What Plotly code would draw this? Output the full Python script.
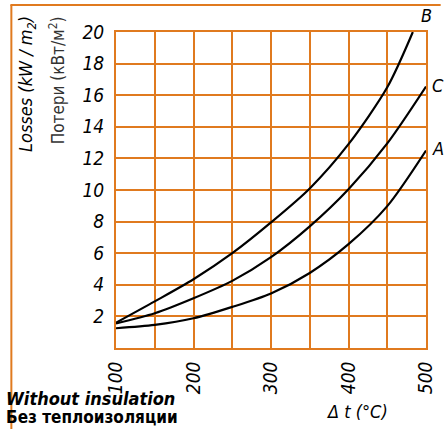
import plotly.graph_objects as go

x_main = [100, 150, 200, 250, 300, 350, 400, 450, 500]
x_b = [100, 150, 200, 250, 300, 350, 400, 450, 483]
loss_b = [1.6, 2.95, 4.35, 6.0, 7.95, 10.1, 12.9, 16.5, 20.0]
loss_c = [1.55, 2.2, 3.15, 4.25, 5.75, 7.7, 10.05, 12.95, 16.55]
loss_a = [1.25, 1.46, 1.88, 2.6, 3.45, 4.75, 6.57, 8.98, 12.5]
x_ticks = [100, 200, 300, 400, 500]
y_ticks = [2, 4, 6, 8, 10, 12, 14, 16, 18, 20]

ORANGE = "#E07A1F"
FONT = "DejaVu Sans Condensed, Roboto, Liberation Sans"

fig = go.Figure()
for xs, ys, name in [(x_b, loss_b, "B"), (x_main, loss_c, "C"), (x_main, loss_a, "A")]:
    fig.add_trace(go.Scatter(x=xs, y=ys, mode="lines", name=name,
                             line=dict(color="black", width=2.2, shape="spline", smoothing=0.8),
                             showlegend=False, cliponaxis=False))

fig.update_layout(
    width=448, height=429,
    margin=dict(l=116, r=15, t=32, b=81),
    paper_bgcolor="white", plot_bgcolor="white",
    font=dict(family=FONT, color="black"),
    xaxis=dict(range=[100, 500], tickvals=x_ticks, ticktext=[f"<i>{v}</i>" for v in x_ticks],
               tickangle=-90, tickfont=dict(size=19, family=FONT),
               showgrid=True, gridcolor=ORANGE, gridwidth=2,
               minor=dict(dtick=50, showgrid=True, gridcolor=ORANGE, gridwidth=2),
               showline=True, linecolor=ORANGE, linewidth=2, mirror=True,
               zeroline=False, ticks="", ticklabelstandoff=4),
    yaxis=dict(range=[0, 20], tickvals=y_ticks, ticktext=[f"<i>{v}</i>" for v in y_ticks],
               tickfont=dict(size=19, family=FONT),
               showgrid=True, gridcolor=ORANGE, gridwidth=2,
               showline=True, linecolor=ORANGE, linewidth=2, mirror=True,
               zeroline=False, ticks="", ticklabelstandoff=6),
)

# outer frame lines
fig.add_shape(type="line", xref="paper", yref="paper",
              x0=-108/317, x1=332/317, y0=(348-5)/316, y1=(348-5)/316,
              line=dict(color=ORANGE, width=2))
fig.add_shape(type="line", xref="paper", yref="paper",
              x0=-107/317, x1=-107/317, y0=(348-5)/316, y1=-90/316,
              line=dict(color=ORANGE, width=2))

def px(xp, yp):
    return (xp - 116) / 317, (348 - yp) / 316

def add(text, xp, yp, size, angle=0, xanchor="center", yanchor="middle", color="black"):
    x, y = px(xp, yp)
    fig.add_annotation(text=text, x=x, y=y, xref="paper", yref="paper", showarrow=False,
                       textangle=angle, xanchor=xanchor, yanchor=yanchor,
                       font=dict(size=size, family=FONT, color=color))

add("<i>Losses (kW / m<sub>2</sub>)</i>", 25, 84, 18, angle=-90)
add("Потери (кВт/м<sup>2</sup>)", 56, 80, 17, angle=-90, color="#333333")
add("<i>B</i>", 433, 16, 18)
add("<i>C</i>", 437, 85, 18, xanchor="left")
add("<i>A</i>", 437, 148, 18, xanchor="left")
add("<b><i>Without insulation</i></b>", 1, 398, 18, xanchor="left")
add("<b>Без теплоизоляции</b>", 1, 417, 17, xanchor="left")
add("<i>Δ t (°C)</i>", 362, 411, 18)

fig.write_html("out.html", config={"displayModeBar": False},
               post_script="document.body.style.margin='0';document.body.style.overflow='hidden';")
